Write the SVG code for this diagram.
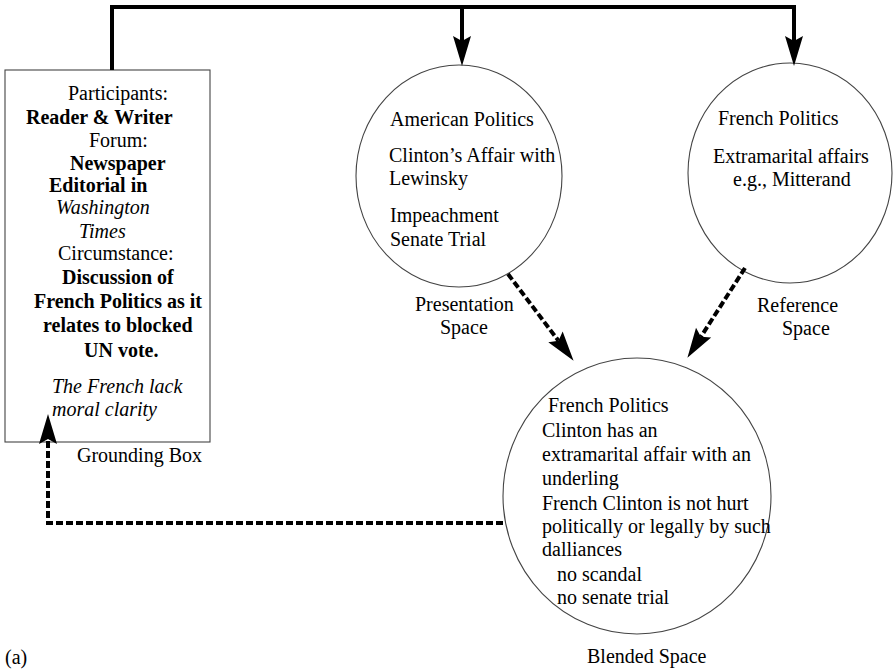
<svg xmlns="http://www.w3.org/2000/svg" width="895" height="672" viewBox="0 0 895 672">
<style>
text{font-family:"Liberation Serif","Times New Roman",serif;font-size:20px;fill:#000}
.b{font-weight:bold}
.i{font-style:italic}
.node{fill:#fff;stroke:#444;stroke-width:1.1}
.solid{fill:none;stroke:#000;stroke-width:4}
.dash{fill:none;stroke:#000;stroke-width:4;stroke-dasharray:7 3}
</style>
<defs>
<marker id="ah" markerUnits="userSpaceOnUse" markerWidth="32" markerHeight="20" viewBox="-1 -10 32 20" refX="5" refY="0" orient="auto">
<path d="M30,0 L0,-9 L5,0 L0,9 Z" fill="#000"/>
</marker>
</defs>
<g id="grounding-box">
<rect class="node" x="5" y="70" width="205" height="372" stroke="#555"/>
<text x="68" y="100">Participants:</text>
<text class="b" x="26" y="124">Reader &amp; Writer</text>
<text x="89" y="147">Forum:</text>
<text class="b" x="70" y="170">Newspaper</text>
<text class="b" x="49" y="192">Editorial in</text>
<text class="i" x="56" y="214">Washington</text>
<text class="i" x="79" y="238">Times</text>
<text x="58" y="260">Circumstance:</text>
<text class="b" x="62" y="284">Discussion of</text>
<text class="b" x="34" y="308">French Politics as it</text>
<text class="b" x="43" y="332">relates to blocked</text>
<text class="b" x="84" y="357">UN vote.</text>
<text class="i" x="52" y="393">The French lack</text>
<text class="i" x="52" y="416">moral clarity</text>
<text x="77" y="462">Grounding Box</text>
</g>
<g id="presentation-space">
<ellipse class="node" cx="459" cy="176" rx="103" ry="111"/>
<text x="390" y="126">American Politics</text>
<text x="389" y="162">Clinton’s Affair with</text>
<text x="389" y="185">Lewinsky</text>
<text x="390" y="222">Impeachment</text>
<text x="390" y="246">Senate Trial</text>
<text x="415" y="311">Presentation</text>
<text x="440" y="334">Space</text>
</g>
<g id="reference-space">
<ellipse class="node" cx="790" cy="173" rx="102" ry="110"/>
<text x="718" y="125">French Politics</text>
<text x="713" y="163">Extramarital affairs</text>
<text x="733" y="186">e.g., Mitterand</text>
<text x="757" y="312">Reference</text>
<text x="782" y="335">Space</text>
</g>
<g id="blended-space">
<ellipse class="node" cx="637" cy="496" rx="134" ry="138"/>
<text x="548" y="412">French Politics</text>
<text x="542" y="437">Clinton has an</text>
<text x="542" y="461">extramarital affair with an</text>
<text x="542" y="485">underling</text>
<text x="542" y="510">French Clinton is not hurt</text>
<text x="542" y="533">politically or legally by such</text>
<text x="542" y="556">dalliances</text>
<text x="557" y="581">no scandal</text>
<text x="557" y="604">no senate trial</text>
<text x="587" y="663">Blended Space</text>
</g>
<text x="5" y="664">(a)</text>
<g id="connectors">
<path class="solid" d="M112,70 V7 H794 V41" marker-end="url(#ah)"/>
<path class="solid" d="M462,7 V41" marker-end="url(#ah)"/>
<path class="dash" d="M508,274 L558.5,340.8" marker-end="url(#ah)"/>
<path class="dash" d="M745,268 L700.9,336.8" marker-end="url(#ah)"/>
<path class="dash" d="M503,523 H48 V439" marker-end="url(#ah)"/>
</g>
</svg>
